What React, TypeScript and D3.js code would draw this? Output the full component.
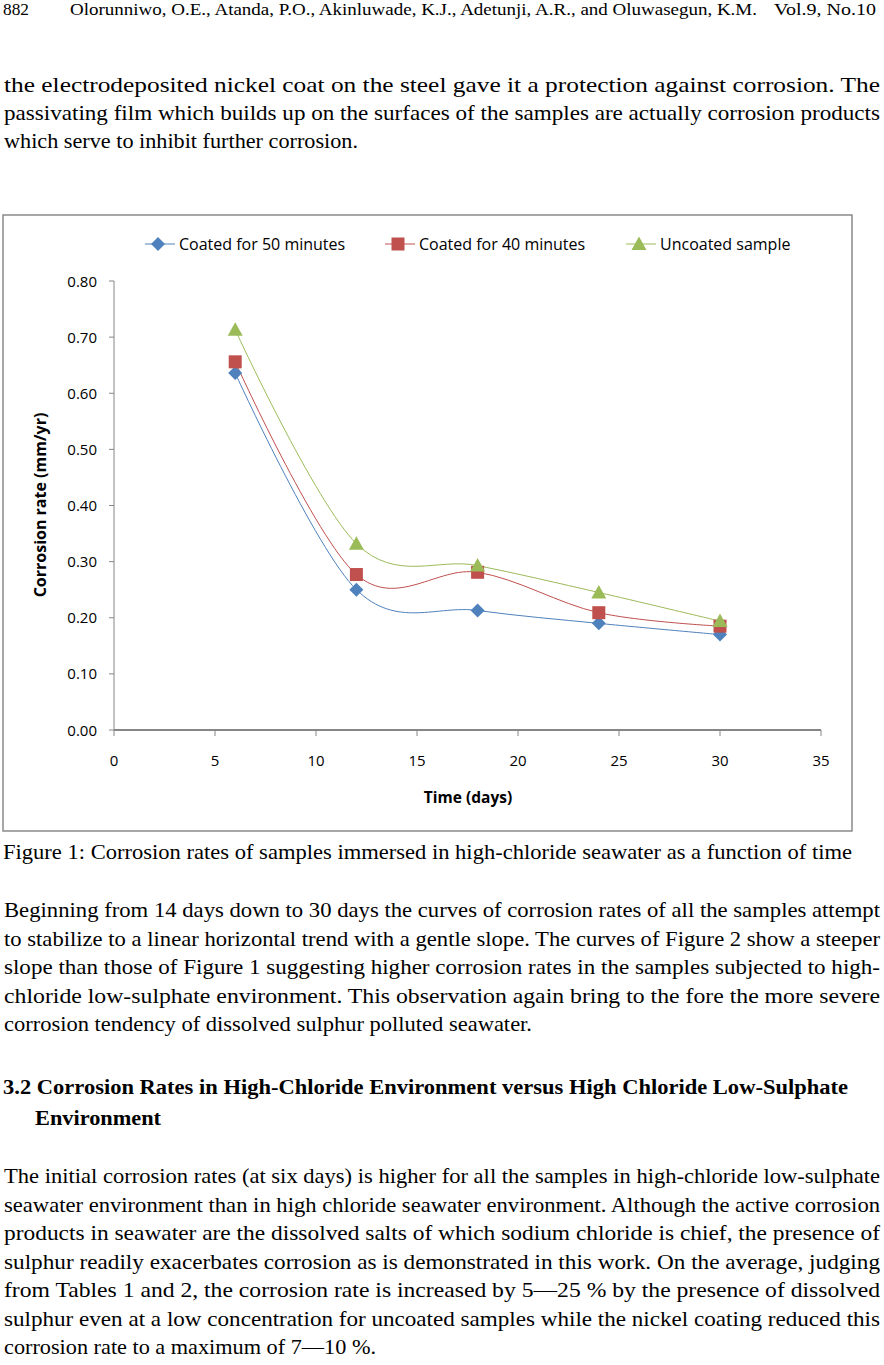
import * as d3 from "d3"
import { useEffect } from "react"

// chart values
const days = [6, 12, 18, 24, 30]
const coated50 = [0.636, 0.25, 0.213, 0.19, 0.17]
const coated40 = [0.656, 0.277, 0.281, 0.209, 0.185]
const uncoated = [0.713, 0.332, 0.293, 0.245, 0.194]
const seriesNames = ["Coated for 50 minutes", "Coated for 40 minutes", "Uncoated sample"]
const seriesColors = ["#4F81BD", "#C0504D", "#9BBB59"]
const xTicks = [0, 5, 10, 15, 20, 25, 30, 35]
const yTicks = [0, 0.1, 0.2, 0.3, 0.4, 0.5, 0.6, 0.7, 0.8]

// page text
const headerParts = [
  "882",
  "Olorunniwo, O.E., Atanda, P.O., Akinluwade, K.J., Adetunji, A.R., and Oluwasegun, K.M.",
  "Vol.9, No.10"
]
const para1 = [
  "the electrodeposited nickel coat on the steel gave it a protection against corrosion. The",
  "passivating film which builds up on the surfaces of the samples are actually corrosion products",
  "which serve to inhibit further corrosion."
]
const caption = "Figure 1: Corrosion rates of samples immersed in high-chloride seawater as a function of time"
const para2 = [
  "Beginning from 14 days down to 30 days the curves of corrosion rates of all the samples  attempt",
  "to stabilize to a linear horizontal trend with a gentle slope. The curves of Figure 2 show a steeper",
  "slope than those of Figure 1 suggesting higher corrosion rates in the samples subjected to high-",
  "chloride low-sulphate environment. This observation again bring to the fore the more severe",
  "corrosion tendency of dissolved sulphur polluted seawater."
]
const heading = [
  "3.2 Corrosion Rates in High-Chloride Environment versus High Chloride Low-Sulphate",
  "Environment"
]
const para3 = [
  "The initial corrosion rates (at six days) is higher for all the samples in high-chloride low-sulphate",
  "seawater environment than in high chloride seawater environment. Although the active corrosion",
  "products in seawater are the dissolved salts of which sodium chloride is chief, the presence of",
  "sulphur readily exacerbates corrosion as is demonstrated in this work. On the average, judging",
  "from Tables 1 and 2, the corrosion rate is increased by 5\u201425 % by the presence of dissolved",
  "sulphur even at a low concentration for uncoated samples while the nickel coating reduced this",
  "corrosion rate to a maximum of 7\u201410 %."
]

const serif = "'Liberation Serif', 'Times New Roman', serif"
const sans = "'Open Sans', 'Noto Sans', sans-serif"
const bodySize = 22

const Paragraph = ({ lines, top, step, lastWidth }: { lines: string[]; top: number; step: number; lastWidth: number }) => (
  <g fontFamily={serif} fontSize={bodySize}>
    {lines.map((t, i) => (
      <text
        key={i}
        x={4}
        y={top + i * step}
        textLength={i === lines.length - 1 ? lastWidth : 876}
        lengthAdjust="spacingAndGlyphs"
      >
        {t}
      </text>
    ))}
  </g>
)

const Marker = ({ kind, x, y, color }: { kind: number; x: number; y: number; color: string }) => {
  if (kind === 0) {
    return <path d={`M${x},${y - 7}L${x + 7},${y}L${x},${y + 7}L${x - 7},${y}Z`} fill={color} />
  }
  if (kind === 1) {
    return <rect x={x - 6.5} y={y - 6.5} width={13} height={13} fill={color} />
  }
  return <path d={`M${x},${y - 7.5}L${x + 7.5},${y + 6}L${x - 7.5},${y + 6}Z`} fill={color} />
}

const App = () => {
  useEffect(() => {
    document.body.style.margin = "0"
  }, [])

  const x = d3.scaleLinear().domain([0, 35]).range([114, 821])
  const y = d3.scaleLinear().domain([0, 0.8]).range([730, 281])
  const line = d3
    .line<number>()
    .x((_, i) => x(days[i]))
    .y(d => y(d))
    .curve(d3.curveCardinal.tension(0))

  const allSeries = [coated50, coated40, uncoated]
  const legendX = [160, 400, 641]

  return (
    <svg width={884} height={1365} style={{ display: "block", background: "#fff" }}>
      {/* running header */}
      <g fontFamily={serif} fontSize={17.5}>
        <text x={3} y={15} textLength={26} lengthAdjust="spacingAndGlyphs">{headerParts[0]}</text>
        <text x={70} y={15} textLength={687} lengthAdjust="spacingAndGlyphs">{headerParts[1]}</text>
        <text x={774} y={15} textLength={102} lengthAdjust="spacingAndGlyphs">{headerParts[2]}</text>
      </g>

      <Paragraph lines={para1} top={92} step={28} lastWidth={354} />

      {/* chart frame */}
      <rect x={3} y={215} width={849} height={616} fill="#fff" stroke="#8a8a8a" strokeWidth={1.5} />

      {/* legend */}
      <g fontFamily={sans} fontSize={16} fill="#000">
        {seriesNames.map((name, i) => (
          <g key={name}>
            <line x1={legendX[i] - 15} x2={legendX[i] + 15} y1={244} y2={244} stroke={seriesColors[i]} strokeWidth={1} />
            <Marker kind={i} x={legendX[i] - 2} y={244} color={seriesColors[i]} />
            <text x={legendX[i] + 19} y={249.5}>{name}</text>
          </g>
        ))}
      </g>

      {/* y axis */}
      <line x1={114} x2={114} y1={y(0.8)} y2={y(0)} stroke="#868686" strokeWidth={1} />
      {yTicks.map(t => (
        <g key={t}>
          <line x1={109} x2={114} y1={y(t)} y2={y(t)} stroke="#868686" strokeWidth={1} />
          <text x={97} y={y(t) + 5.5} textAnchor="end" fontFamily={sans} fontSize={15}>
            {t.toFixed(2)}
          </text>
        </g>
      ))}

      {/* x axis */}
      <line x1={x(0)} x2={x(35)} y1={730} y2={730} stroke="#868686" strokeWidth={2} />
      {xTicks.map(t => (
        <g key={t}>
          <line x1={x(t)} x2={x(t)} y1={730} y2={736} stroke="#868686" strokeWidth={1} />
          <text x={x(t)} y={766} textAnchor="middle" fontFamily={sans} fontSize={15}>
            {t}
          </text>
        </g>
      ))}

      <text x={468} y={803} textAnchor="middle" fontFamily={sans} fontSize={15.5} fontWeight="bold">
        Time (days)
      </text>
      <text
        transform={`translate(46,505) rotate(-90)`}
        textAnchor="middle"
        fontFamily={sans}
        fontSize={16}
        fontWeight="bold"
      >
        Corrosion rate (mm/yr)
      </text>

      {/* series */}
      {allSeries.map((s, k) => (
        <path key={"l" + k} d={line(s) || ""} fill="none" stroke={seriesColors[k]} strokeWidth={1} />
      ))}
      {allSeries.map((s, k) => (
        <g key={"m" + k}>
          {s.map((v, i) => (
            <Marker key={i} kind={k} x={x(days[i])} y={y(v)} color={seriesColors[k]} />
          ))}
        </g>
      ))}

      {/* caption */}
      <text x={3} y={859} fontFamily={serif} fontSize={bodySize} textLength={849} lengthAdjust="spacingAndGlyphs">
        {caption}
      </text>

      <Paragraph lines={para2} top={917} step={28.5} lastWidth={528} />

      <g fontFamily={serif} fontSize={bodySize} fontWeight="bold">
        <text x={3} y={1094} textLength={845} lengthAdjust="spacingAndGlyphs">{heading[0]}</text>
        <text x={35} y={1125} textLength={126} lengthAdjust="spacingAndGlyphs">{heading[1]}</text>
      </g>

      <Paragraph lines={para3} top={1183} step={28.5} lastWidth={372} />
    </svg>
  )
}

export default App
